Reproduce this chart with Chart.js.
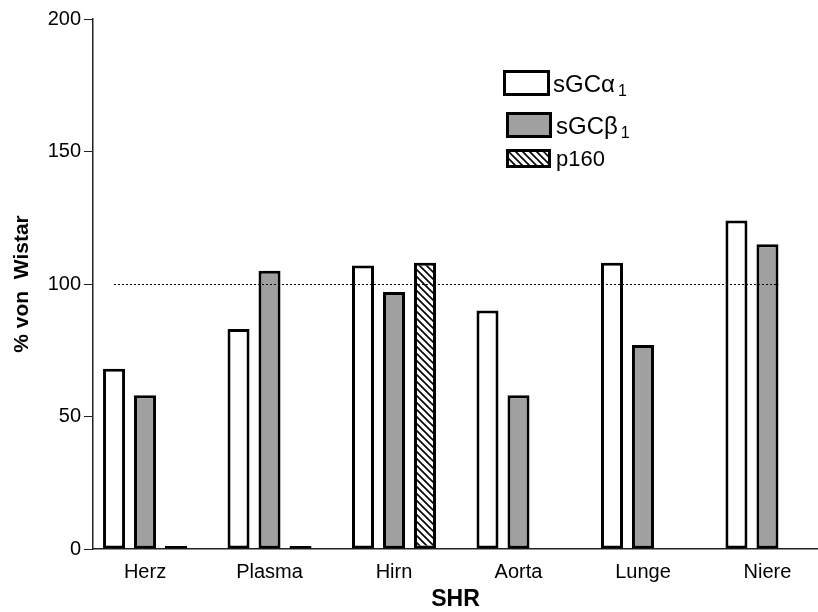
<!DOCTYPE html>
<html>
<head>
<meta charset="utf-8">
<script src="https://cdn.jsdelivr.net/npm/chart.js@4.4.0/dist/chart.umd.min.js"></script>
<style>
  html, body { margin: 0; padding: 0; background: #fff; }
  #wrap { width: 818px; height: 612px; position: relative; }
</style>
</head>
<body>
<div id="wrap"><canvas id="chart"></canvas></div>
<script>
// values (% of Wistar, SHR rats)
const tissues = ['Herz', 'Plasma', 'Hirn', 'Aorta', 'Lunge', 'Niere'];
const alpha1 = [68, 83, 107, 90, 108, 124];
const beta1 = [58, 105, 97, 58, 77, 115];
const p160 = [0, 0, 108, null, null, null];
const yTicks = [0, 50, 100, 150, 200];
const refLevel = 100;

const FONT = "'Liberation Sans', Arial, Helvetica, sans-serif";

/**
 * Builds a diagonal hatch pattern ("\\\") for the p160 bars
 */
const makeHatch = (ctx) => {
    const c = document.createElement('canvas');
    c.width = 7;
    c.height = 7;
    const g = c.getContext('2d');
    g.fillStyle = '#fff';
    g.fillRect(0, 0, 7, 7);
    g.strokeStyle = '#000';
    g.lineWidth = 1.6;
    g.beginPath();
    g.moveTo(-1, -1); g.lineTo(8, 8);
    g.moveTo(-1, 6); g.lineTo(1, 8);
    g.moveTo(6, -1); g.lineTo(8, 1);
    g.stroke();
    return ctx.createPattern(c, 'repeat');
};

const toPoints = (arr) => arr
    .map((v, i) => ({ x: i, y: v }))
    .filter(p => p.y !== null);

const canvas = document.getElementById('chart');
const hatch = makeHatch(canvas.getContext('2d'));

/**
 * Dotted line at the 100 % level, from the first white bar to the last grey bar
 */
const refLinePlugin = {
    id: 'refLine',
    afterDatasetsDraw(chart) {
        const { ctx, scales: { y } } = chart;
        const first = chart.getDatasetMeta(0).data[0];
        const greys = chart.getDatasetMeta(1).data;
        const last = greys[greys.length - 1];
        const py = Math.round(y.getPixelForValue(refLevel)) + 0.5;
        ctx.save();
        ctx.setLineDash([2, 2]);
        ctx.strokeStyle = '#000';
        ctx.lineWidth = 1;
        ctx.beginPath();
        ctx.moveTo(first.x, py);
        ctx.lineTo(last.x + last.width / 2, py);
        ctx.stroke();
        ctx.restore();
    }
};

/**
 * Hand-drawn legend, boxes of slightly different sizes like the original
 */
const legendPlugin = {
    id: 'boxLegend',
    afterDraw(chart, args, opts) {
        const ctx = chart.ctx;
        ctx.save();
        opts.items.forEach((item) => {
            const ds = chart.data.datasets[item.ds];
            const [bx, by, bw, bh] = item.box;
            ctx.fillStyle = ds.backgroundColor;
            ctx.fillRect(bx, by, bw, bh);
            ctx.lineWidth = 3;
            ctx.strokeStyle = '#000';
            ctx.strokeRect(bx + 1.5, by + 1.5, bw - 3, bh - 3);

            ctx.fillStyle = '#000';
            ctx.textBaseline = 'alphabetic';
            ctx.textAlign = 'left';
            ctx.font = item.size + 'px ' + FONT;
            ctx.fillText(item.text, item.tx, item.ty);
            if (item.sub) {
                const w = ctx.measureText(item.text).width;
                ctx.font = '16px ' + FONT;
                ctx.fillText(item.sub, item.tx + w + 3, item.ty + 4);
            }
        });
        ctx.restore();
    }
};

new Chart(canvas, {
    type: 'bar',
    data: {
        datasets: [
            {
                label: 'sGCα1',
                data: toPoints(alpha1),
                backgroundColor: '#ffffff',
                borderColor: '#000',
                borderWidth: 3,
                borderSkipped: false
            },
            {
                label: 'sGCβ1',
                data: toPoints(beta1),
                backgroundColor: '#a0a0a0',
                borderColor: '#000',
                borderWidth: 3,
                borderSkipped: false
            },
            {
                label: 'p160',
                data: toPoints(p160),
                backgroundColor: hatch,
                borderColor: '#000',
                borderWidth: 3,
                borderSkipped: false,
                minBarLength: 3
            }
        ]
    },
    options: {
        responsive: true,
        maintainAspectRatio: false,
        animation: false,
        categoryPercentage: 0.747,
        barPercentage: 0.71,
        layout: { padding: { top: 19, right: 0, bottom: 0, left: 0 } },
        plugins: {
            legend: { display: false },
            tooltip: { enabled: false },
            boxLegend: {
                items: [
                    { ds: 0, box: [503, 70, 47, 26], text: 'sGCα', sub: '1', tx: 553, ty: 92, size: 24 },
                    { ds: 1, box: [506, 112, 46, 26], text: 'sGCβ', sub: '1', tx: 556, ty: 134, size: 24 },
                    { ds: 2, box: [506, 149, 45, 19], text: 'p160', tx: 556, ty: 166, size: 22 }
                ]
            }
        },
        scales: {
            x: {
                type: 'linear',
                min: -0.418,
                max: 5.406,
                offset: false,
                grid: { display: false, drawTicks: false },
                border: { display: true, color: '#222', width: 1.5 },
                afterBuildTicks: (scale) => {
                    scale.ticks = tissues.map((_, i) => ({ value: i }));
                },
                afterFit: (scale) => { scale.height = 63; },
                ticks: {
                    padding: 11,
                    color: '#000',
                    font: { family: FONT, size: 20 },
                    callback: (v) => tissues[v]
                },
                title: {
                    display: true,
                    text: 'SHR',
                    color: '#000',
                    font: { family: FONT, size: 23, weight: 'bold', lineHeight: 1 },
                    padding: { top: 0, bottom: 1 }
                }
            },
            y: {
                min: 0,
                max: 200,
                afterBuildTicks: (scale) => {
                    scale.ticks = yTicks.map(v => ({ value: v }));
                },
                afterFit: (scale) => { scale.width = 93; },
                grid: {
                    drawOnChartArea: false,
                    drawTicks: true,
                    tickLength: 9,
                    color: '#222',
                    lineWidth: 1
                },
                border: { display: true, color: '#222', width: 1.5 },
                ticks: {
                    padding: 3,
                    color: '#000',
                    font: { family: FONT, size: 20 }
                },
                title: {
                    display: true,
                    text: '% von  Wistar',
                    color: '#000',
                    font: { family: FONT, size: 21, weight: 'bold', lineHeight: 1.2 },
                    padding: { top: 10, bottom: 0 }
                }
            }
        }
    },
    plugins: [refLinePlugin, legendPlugin]
});
</script>
</body>
</html>
